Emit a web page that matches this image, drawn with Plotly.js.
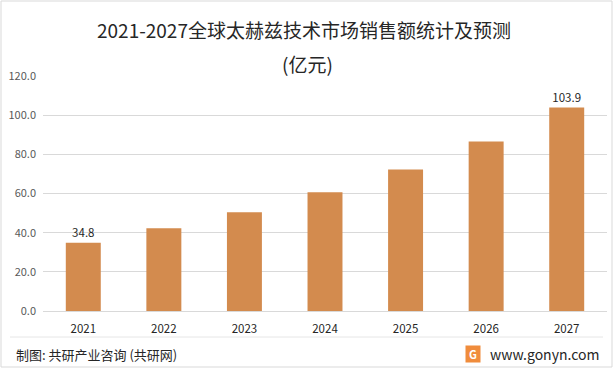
<!DOCTYPE html>
<html><head><meta charset="utf-8">
<script src="https://cdn.plot.ly/plotly-3.0.1.min.js"></script>
<style>html,body{margin:0;padding:0;background:#fff;}#c{width:613px;height:368px;}</style>
</head><body><div id="c"></div>
<script>
const years = ['2021','2022','2023','2024','2025','2026','2027'];
const sales = [34.8, 42.3, 50.4, 60.7, 72.3, 86.6, 103.9];
const labels = ['34.8','','','','','','103.9'];
const yTicks = [0,20,40,60,80,100,120];
const titleLine1 = '2021-2027全球太赫兹技术市场销售额统计及预测';
const titleLine2 = '(亿元)';
const sourceText = '制图: 共研产业咨询 (共研网)';
const siteText = 'www.gonyn.com';

const font = '"Microsoft YaHei","Noto Sans CJK SC","Noto Sans",sans-serif';
const W=613,H=368,pl=43,pr=6,pt=76,pb=57,pw=W-pl-pr,ph=H-pt-pb;
const px = v => (v-pl)/pw, py = v => (H-pb-v)/ph;

const trace = {
  type:'bar', x:years, y:sales, text:labels, textposition:'outside',
  textfont:{size:11.5,color:'#262626',family:font}, cliponaxis:false,
  marker:{color:'#d38b4e'}, hoverinfo:'none'
};
const layout = {
  width:W, height:H,
  margin:{l:pl,r:pr,t:pt,b:pb},
  paper_bgcolor:'#fff', plot_bgcolor:'#fff',
  bargap:0.566, showlegend:false,
  font:{family:font,color:'#595959',size:11},
  xaxis:{type:'category', showgrid:false, showline:true, linecolor:'#d9d9d9', linewidth:1, ticks:'',
    tickfont:{size:11.5,color:'#262626'}, range:[-0.5,6.5], ticklabelstandoff:7},
  yaxis:{range:[0,120], tickvals:yTicks, tickformat:'.1f', showgrid:true, gridcolor:'#d9d9d9', gridwidth:1,
    zeroline:false, showline:false, ticks:'', tickfont:{size:11,color:'#595959'}, ticklabelstandoff:6},
  shapes:[
    {type:'rect',xref:'paper',yref:'paper',x0:px(1),x1:px(W-1),y0:py(H-1),y1:py(1),line:{color:'#d9d9d9',width:1}},
    {type:'line',xref:'paper',yref:'paper',x0:px(10),x1:px(603),y0:py(337),y1:py(337),line:{color:'#e6e6e6',width:1}}
  ],
  annotations:[
    {text:titleLine1, xref:'paper', yref:'paper', x:px(304), y:py(30), xanchor:'center', yanchor:'middle', showarrow:false,
      font:{size:19,color:'#262626',family:font}},
    {text:titleLine2, xref:'paper', yref:'paper', x:px(307), y:py(63), xanchor:'center', yanchor:'middle', showarrow:false,
      font:{size:19,color:'#262626',family:font}},
    {text:sourceText, xref:'paper', yref:'paper', x:px(14), y:py(354), xanchor:'left', yanchor:'middle', showarrow:false,
      font:{size:13,color:'#262626',family:font}},
    {text:siteText, xref:'paper', yref:'paper', x:px(601), y:py(354), xanchor:'right', yanchor:'middle', showarrow:false,
      font:{size:14,color:'#262626',family:font}},
    {text:'<b>G</b>', xref:'paper', yref:'paper', x:px(473), y:py(354), xanchor:'center', yanchor:'middle', showarrow:false,
      font:{size:11,color:'#ffffff',family:font}, bgcolor:'#f08c3c', width:14, height:16, borderpad:0}
  ]
};
Plotly.newPlot('c',[trace],layout,{staticPlot:true,displayModeBar:false});
</script></body></html>
